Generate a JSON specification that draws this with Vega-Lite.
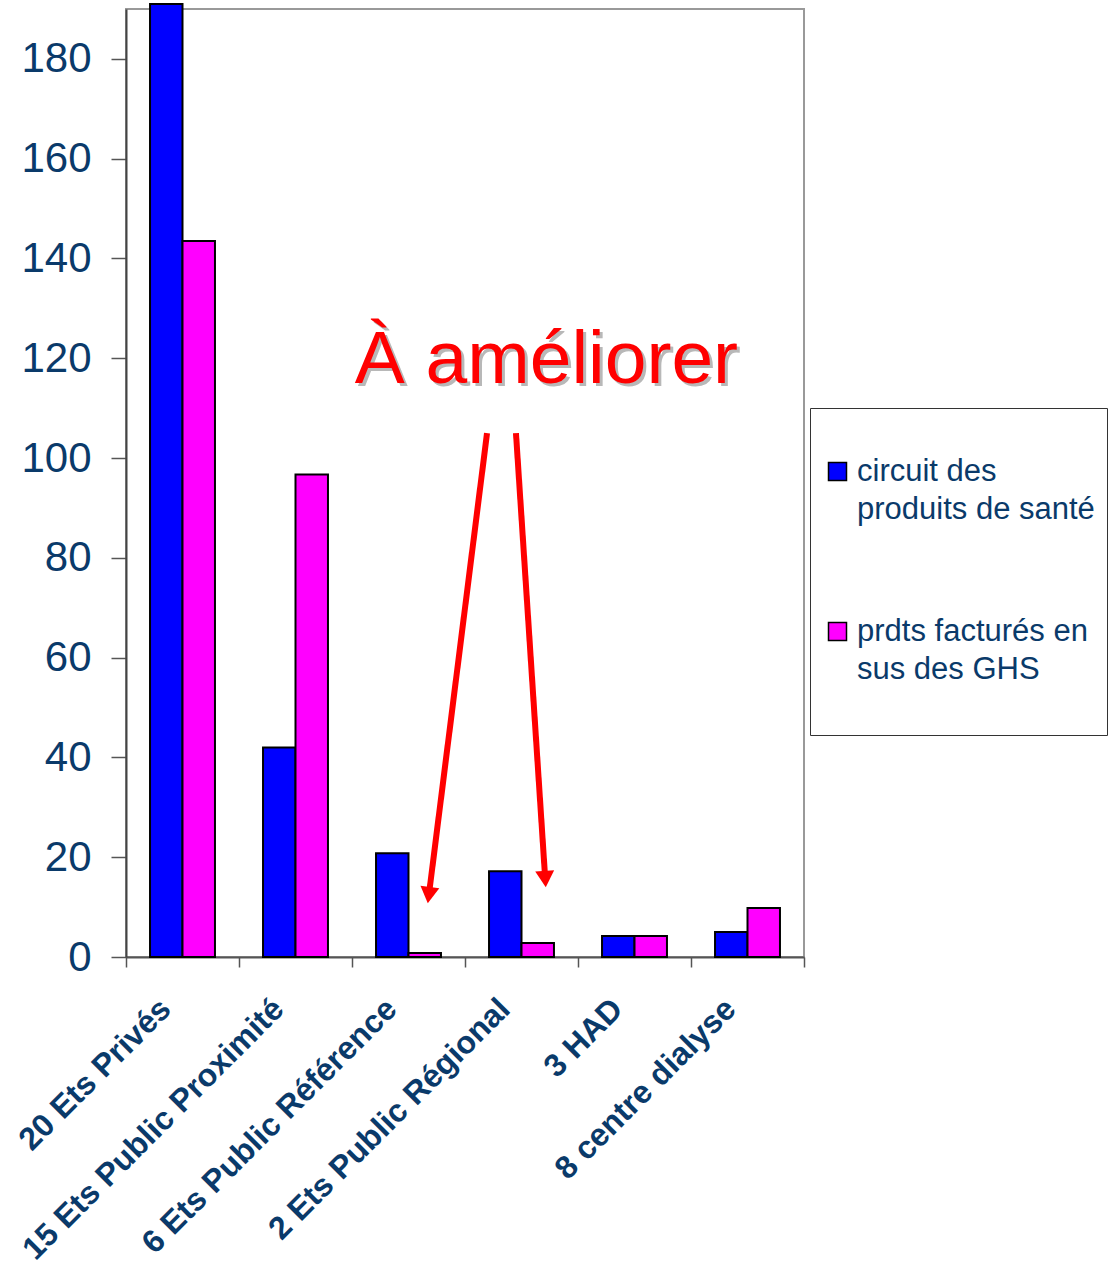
{
  "$schema": "https://vega.github.io/schema/vega-lite/v6.json",
  "width": 678,
  "height": 948,
  "autosize": {"type": "none"},
  "padding": {"left": 126, "top": 9, "right": 306, "bottom": 305},
  "background": "white",
  "config": {
    "font": "Liberation Sans",
    "view": {"stroke": "#999999", "strokeWidth": 2},
    "style": {"guide-label": {"lineHeight": 38}}
  },
  "datasets": {
    "bars": [
      {"categorie": "20 Ets Privés", "serie": "circuit des produits de santé", "valeur": 191},
      {"categorie": "20 Ets Privés", "serie": "prdts facturés en sus des GHS", "valeur": 143.5},
      {"categorie": "15 Ets Public Proximité", "serie": "circuit des produits de santé", "valeur": 42},
      {"categorie": "15 Ets Public Proximité", "serie": "prdts facturés en sus des GHS", "valeur": 96.7},
      {"categorie": "6 Ets Public Référence", "serie": "circuit des produits de santé", "valeur": 20.8},
      {"categorie": "6 Ets Public Référence", "serie": "prdts facturés en sus des GHS", "valeur": 0.8},
      {"categorie": "2 Ets Public Régional", "serie": "circuit des produits de santé", "valeur": 17.2},
      {"categorie": "2 Ets Public Régional", "serie": "prdts facturés en sus des GHS", "valeur": 2.8},
      {"categorie": "3 HAD", "serie": "circuit des produits de santé", "valeur": 4.2},
      {"categorie": "3 HAD", "serie": "prdts facturés en sus des GHS", "valeur": 4.2},
      {"categorie": "8 centre dialyse", "serie": "circuit des produits de santé", "valeur": 5},
      {"categorie": "8 centre dialyse", "serie": "prdts facturés en sus des GHS", "valeur": 9.8}
    ],
    "note": [{"label": "À améliorer", "x": 3.72, "y": 115}],
    "arrows": [
      {"fleche": 1, "x": 3.195, "y": 105},
      {"fleche": 1, "x": 2.68, "y": 12.4},
      {"fleche": 2, "x": 3.451, "y": 105},
      {"fleche": 2, "x": 3.71, "y": 15.6}
    ]
  },
  "layer": [
    {
      "data": {"name": "bars"},
      "mark": {"type": "bar", "stroke": "black", "strokeWidth": 2, "clip": false},
      "encoding": {
        "x": {
          "field": "categorie", "type": "nominal", "sort": null, "title": null,
          "scale": {"paddingInner": 0, "paddingOuter": 0},
          "axis": {
            "labelAngle": -45, "labelFontSize": 32, "labelFontWeight": "bold",
            "labelColor": "#0A3A6A", "tickSize": 10, "tickColor": "#555555",
            "domainColor": "#555555", "domainWidth": 2, "tickWidth": 1.5, "tickBand": "extent",
            "labelPadding": 26, "labelOffset": -28, "labelLimit": 500
          }
        },
        "xOffset": {
          "field": "serie", "type": "nominal", "sort": null,
          "scale": {"paddingInner": 0, "paddingOuter": 0.74}
        },
        "y": {
          "field": "valeur", "type": "quantitative", "title": null,
          "scale": {"domain": [0, 190], "nice": false, "zero": true},
          "axis": {
            "values": [0, 20, 40, 60, 80, 100, 120, 140, 160, 180],
            "labelFontSize": 42, "labelColor": "#0A3A6A", "tickSize": 15,
            "tickColor": "#555555", "tickWidth": 1.5, "domainColor": "#444444", "domainWidth": 2,
            "labelPadding": 20, "grid": false
          }
        },
        "color": {
          "field": "serie", "type": "nominal", "sort": null,
          "scale": {
            "domain": ["circuit des produits de santé", "prdts facturés en sus des GHS"],
            "range": ["#0000FF", "#FF00FF"]
          },
          "legend": {
            "orient": "none", "legendX": 684, "legendY": 399, "title": " ",
            "titleFontSize": 31, "labelFontSize": 31, "labelColor": "#0A3A6A",
            "symbolType": "square", "symbolSize": 324, "symbolStrokeColor": "black",
            "symbolStrokeWidth": 1.5, "strokeColor": "#333333", "fillColor": "white",
            "padding": 12, "rowPadding": 90, "labelOffset": 4, "labelLimit": 400,
            "labelExpr": "datum.label == 'circuit des produits de santé' ? ['circuit des', 'produits de santé'] : ['prdts facturés en', 'sus des GHS', ' ']"
          }
        }
      }
    },
    {
      "data": {"name": "note"},
      "mark": {"type": "text", "fontSize": 75, "color": "#B8B8B8", "dx": 3, "dy": 3, "baseline": "alphabetic", "align": "center"},
      "encoding": {
        "x": {"field": "x", "type": "quantitative", "scale": {"domain": [0, 6], "nice": false, "zero": false}, "axis": null},
        "y": {"field": "y", "type": "quantitative"},
        "text": {"field": "label"}
      }
    },
    {
      "data": {"name": "note"},
      "mark": {"type": "text", "fontSize": 75, "color": "#FF0000", "baseline": "alphabetic", "align": "center"},
      "encoding": {
        "x": {"field": "x", "type": "quantitative", "scale": {"domain": [0, 6], "nice": false, "zero": false}, "axis": null},
        "y": {"field": "y", "type": "quantitative"},
        "text": {"field": "label"}
      }
    },
    {
      "data": {"name": "arrows"},
      "mark": {"type": "line", "color": "#FF0000", "strokeWidth": 6},
      "encoding": {
        "x": {"field": "x", "type": "quantitative", "scale": {"domain": [0, 6], "nice": false, "zero": false}, "axis": null},
        "y": {"field": "y", "type": "quantitative"},
        "detail": {"field": "fleche"}
      }
    },
    {
      "data": {"name": "arrows"},
      "transform": [{"filter": "datum.fleche == 1 && datum.y < 50"}],
      "mark": {"type": "point", "shape": "triangle-down", "filled": true, "color": "#FF0000", "size": 360, "opacity": 1, "angle": 7.4},
      "encoding": {
        "x": {"field": "x", "type": "quantitative", "scale": {"domain": [0, 6], "nice": false, "zero": false}, "axis": null},
        "y": {"field": "y", "type": "quantitative"}
      }
    },
    {
      "data": {"name": "arrows"},
      "transform": [{"filter": "datum.fleche == 2 && datum.y < 50"}],
      "mark": {"type": "point", "shape": "triangle-down", "filled": true, "color": "#FF0000", "size": 360, "opacity": 1, "angle": -3.8},
      "encoding": {
        "x": {"field": "x", "type": "quantitative", "scale": {"domain": [0, 6], "nice": false, "zero": false}, "axis": null},
        "y": {"field": "y", "type": "quantitative"}
      }
    }
  ],
  "resolve": {"scale": {"x": "independent"}}
}
